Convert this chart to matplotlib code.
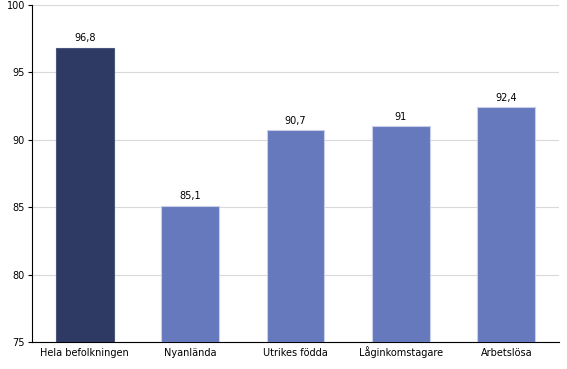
import matplotlib
matplotlib.use("Agg")
import matplotlib.pyplot as plt

# data
categories = ["Hela befolkningen", "Nyanlända", "Utrikes födda", "Låginkomstagare", "Arbetslösa"]
values = [96.8, 85.1, 90.7, 91.0, 92.4]
labels = ["96,8", "85,1", "90,7", "91", "92,4"]
yticks = [75, 80, 85, 90, 95, 100]

dark = "#2E3A64"
light = "#6679BC"
colors = [dark] + [light] * (len(values) - 1)
edges = ["#4A557E"] + ["#C9CFEA"] * (len(values) - 1)

plt.rcParams["font.family"] = ["DejaVu Sans"]

fig = plt.figure(figsize=(5.67, 3.69), dpi=100)
ax = fig.add_axes([32 / 567, 1 - 342 / 369, (559 - 32) / 567, (342 - 5) / 369])

x = range(len(categories))
bars = ax.bar(x, values, width=0.55, color=colors, edgecolor=edges, linewidth=0.8, zorder=3)

for b, lab in zip(bars, labels):
    ax.text(b.get_x() + b.get_width() / 2, b.get_height() + 0.35, lab,
            ha="center", va="bottom", fontsize=7, color="black")

ax.set_ylim(75, 100)
ax.set_xlim(-0.5, len(categories) - 0.5)
ax.set_yticks(yticks)
ax.set_yticklabels([str(t) for t in yticks], fontsize=7)
ax.set_xticks(list(x))
ax.set_xticklabels(categories, fontsize=7, va="baseline")
ax.tick_params(axis="x", length=0, pad=10)
ax.tick_params(axis="y", length=3, width=0.8, pad=2)

ax.grid(axis="y", color="#D9D9D9", linewidth=0.8, zorder=0)
for side in ["top", "right"]:
    ax.spines[side].set_visible(False)
ax.spines["left"].set_linewidth(0.8)
ax.spines["bottom"].set_linewidth(0.8)

fig.savefig("out.png", dpi=100)
